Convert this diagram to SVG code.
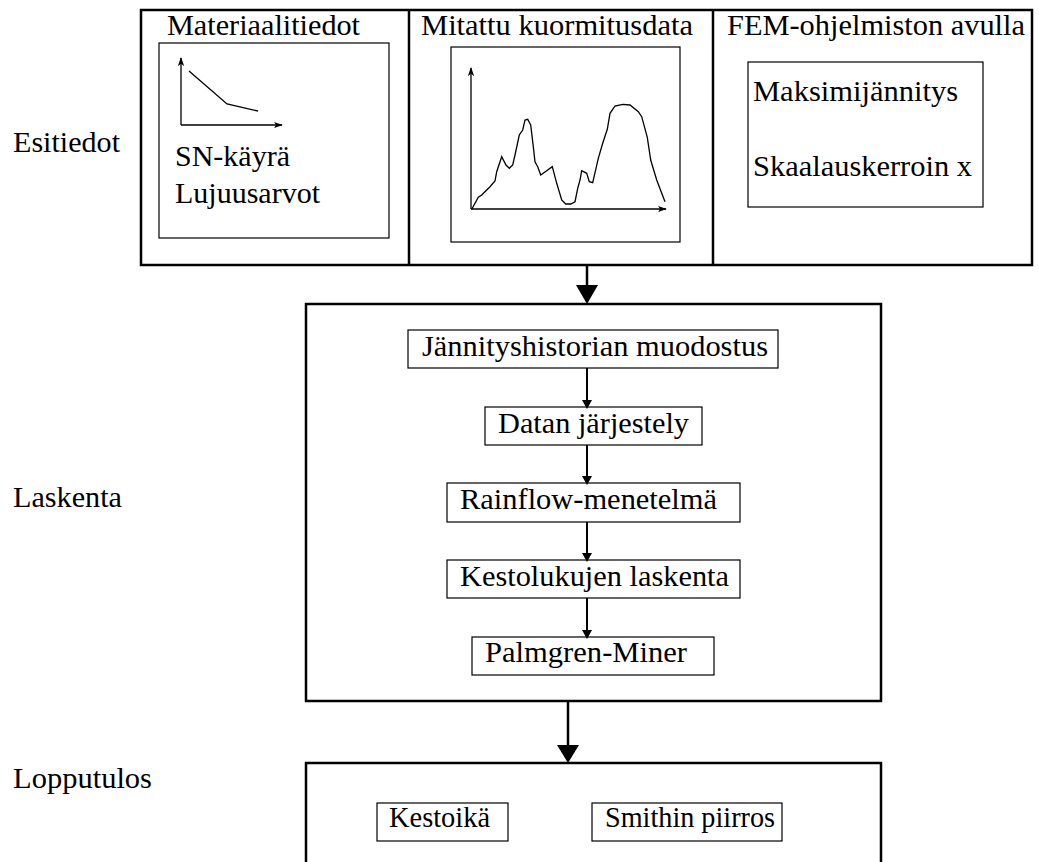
<svg xmlns="http://www.w3.org/2000/svg" width="1039" height="862" viewBox="0 0 1039 862">
<style>
text{font-family:"Liberation Serif","Times New Roman",serif;font-size:30px;fill:#000}
.outer{fill:none;stroke:#000;stroke-width:2.5}
.inner{fill:#fff;stroke:#000;stroke-width:1.2}
.ax{fill:none;stroke:#000;stroke-width:1.3}
.conn{stroke:#000;stroke-width:2.5;fill:none}
.sconn{stroke:#000;stroke-width:2;fill:none}
</style>
<defs>
<marker id="ah" viewBox="0 0 10 10" refX="9" refY="5" markerWidth="9" markerHeight="9" markerUnits="userSpaceOnUse" orient="auto">
<path d="M0,1.5 L10,5 L0,8.5 L2.5,5 Z" fill="#000"/>
</marker>
</defs>
<rect x="0" y="0" width="1039" height="862" fill="#fff"/>

<g id="labels">
<text x="13" y="152" textLength="107" lengthAdjust="spacingAndGlyphs">Esitiedot</text>
<text x="13" y="507" textLength="109" lengthAdjust="spacingAndGlyphs">Laskenta</text>
<text x="13" y="788" textLength="139" lengthAdjust="spacingAndGlyphs">Lopputulos</text>
</g>

<g id="esitiedot">
<rect class="outer" x="141" y="10" width="891" height="255"/>
<line class="outer" x1="409" y1="10" x2="409" y2="265"/>
<line class="outer" x1="713" y1="10" x2="713" y2="265"/>
</g>

<g id="materiaalitiedot">
<text x="167" y="35" textLength="193" lengthAdjust="spacingAndGlyphs">Materiaalitiedot</text>
<rect class="inner" x="159" y="43" width="230" height="195"/>
<line class="ax" x1="181" y1="125" x2="181" y2="58" marker-end="url(#ah)"/>
<line class="ax" x1="181" y1="125" x2="282" y2="125" marker-end="url(#ah)"/>
<polyline class="ax" points="189,71 227,104 258,111"/>
<text x="175" y="166" textLength="115" lengthAdjust="spacingAndGlyphs">SN-käyrä</text>
<text x="175" y="203" textLength="145" lengthAdjust="spacingAndGlyphs">Lujuusarvot</text>
</g>

<g id="kuormitusdata">
<text x="421" y="35" textLength="272" lengthAdjust="spacingAndGlyphs">Mitattu kuormitusdata</text>
<rect class="inner" x="451" y="47" width="229" height="195"/>
<line class="ax" x1="471" y1="209" x2="471" y2="68" marker-end="url(#ah)"/>
<line class="ax" x1="471" y1="209" x2="666" y2="209" marker-end="url(#ah)"/>
<polyline class="ax" points="471.7,209.3 478.3,197.3 481.7,195 490,186.7 495,181 496.7,171.7 501.7,156.7 506,165 509.3,168.3 512.7,165 515,155 519.3,135 522.7,130 525,120 527.7,119.3 530.7,125 533.3,146.7 535,161.7 537.7,166.7 540.7,175 546.7,170.7 552.3,166.7 556.7,183.3 561.7,200 565.7,204 570.7,204 575,201.7 577.7,188.3 580,180 581.7,170.7 586.7,173.3 589.3,181.7 592.7,182.7 598.3,158.3 602.7,143.3 607.3,129.3 610,113.3 615,106 622.7,104.3 630,105 638.3,111.7 641.7,116.7 647.3,137.3 650.7,160 656.7,180 665,201.7"/>
</g>

<g id="fem">
<text x="727" y="35" textLength="298" lengthAdjust="spacingAndGlyphs">FEM-ohjelmiston avulla</text>
<rect class="inner" x="748" y="62" width="235" height="145"/>
<text x="753" y="101" textLength="205" lengthAdjust="spacingAndGlyphs">Maksimijännitys</text>
<text x="753" y="176" textLength="219" lengthAdjust="spacingAndGlyphs">Skaalauskerroin x</text>
</g>

<g id="laskenta">
<rect class="outer" x="306" y="304" width="575" height="397"/>
</g>
<g id="jannityshistoria">
<rect class="inner" x="408" y="330" width="370" height="38"/>
<text x="422" y="356" textLength="346" lengthAdjust="spacingAndGlyphs">Jännityshistorian muodostus</text>
</g>
<g id="datan">
<rect class="inner" x="485" y="407" width="217" height="38"/>
<text x="498" y="433" textLength="191" lengthAdjust="spacingAndGlyphs">Datan järjestely</text>
</g>
<g id="rainflow">
<rect class="inner" x="447" y="483" width="293" height="39"/>
<text x="460" y="509" textLength="257" lengthAdjust="spacingAndGlyphs">Rainflow-menetelmä</text>
</g>
<g id="kestoluvut">
<rect class="inner" x="447" y="560" width="293" height="38"/>
<text x="460" y="586" textLength="269" lengthAdjust="spacingAndGlyphs">Kestolukujen laskenta</text>
</g>
<g id="palmgren">
<rect class="inner" x="472" y="637" width="242" height="38"/>
<text x="485" y="662" textLength="202" lengthAdjust="spacingAndGlyphs">Palmgren-Miner</text>
</g>

<g id="lopputulos">
<path class="outer" d="M306,870 L306,763 L881,763 L881,870"/>
</g>
<g id="kestoika">
<rect class="inner" x="377" y="803" width="131" height="38"/>
<text x="389" y="827" textLength="101" lengthAdjust="spacingAndGlyphs">Kestoikä</text>
</g>
<g id="smith">
<rect class="inner" x="592" y="803" width="190" height="38"/>
<text x="605" y="827" textLength="170" lengthAdjust="spacingAndGlyphs">Smithin piirros</text>
</g>

<g id="connectors">
<line class="conn" x1="587" y1="265" x2="587" y2="287"/>
<polygon points="576,285 598,285 587,304" fill="#000"/>
<line class="conn" x1="568" y1="701" x2="568" y2="747"/>
<polygon points="557,745 579,745 568,763" fill="#000"/>
<line class="sconn" x1="587" y1="368" x2="587" y2="402"/>
<polygon points="582,400 592,400 587,409" fill="#000"/>
<line class="sconn" x1="587" y1="445" x2="587" y2="478"/>
<polygon points="582,476 592,476 587,485" fill="#000"/>
<line class="sconn" x1="587" y1="522" x2="587" y2="555"/>
<polygon points="582,553 592,553 587,562" fill="#000"/>
<line class="sconn" x1="587" y1="598" x2="587" y2="632"/>
<polygon points="582,630 592,630 587,639" fill="#000"/>
</g>
</svg>
